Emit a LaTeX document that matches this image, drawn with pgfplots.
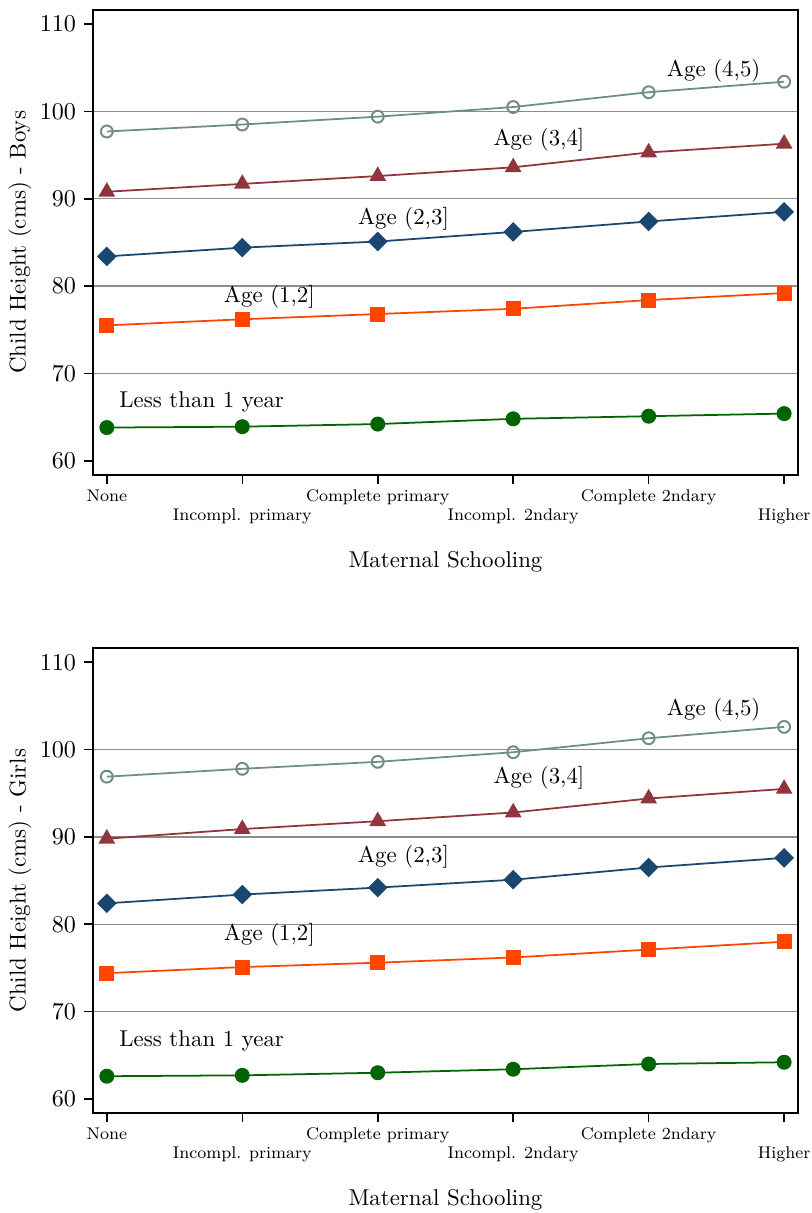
\documentclass[border=0pt]{standalone}
\usepackage{pgfplots}
\usepackage{pgfplotstable}
\pgfplotsset{compat=1.18}

\definecolor{cteal}{RGB}{110,142,132}
\definecolor{cmaroon}{RGB}{144,53,59}
\definecolor{cnavy}{RGB}{26,71,111}
\definecolor{corange}{RGB}{255,69,0}
\definecolor{cgreen}{RGB}{0,100,0}

\pgfplotstableread{
x lt1 a12 a23 a34 a45
0 63.8 75.5 83.4 90.8 97.7
1 63.9 76.2 84.4 91.7 98.5
2 64.2 76.8 85.1 92.6 99.4
3 64.8 77.4 86.2 93.6 100.5
4 65.1 78.4 87.4 95.3 102.2
5 65.4 79.2 88.5 96.3 103.4
}\boys

\pgfplotstableread{
x lt1 a12 a23 a34 a45
0 62.6 74.4 82.4 89.8 96.9
1 62.7 75.1 83.4 90.9 97.8
2 63.0 75.6 84.2 91.8 98.6
3 63.4 76.2 85.1 92.8 99.7
4 64.0 77.1 86.5 94.4 101.3
5 64.2 78.0 87.6 95.5 102.6
}\girls

\newcommand{\lblfont}{\fontsize{10.4}{12.5}\selectfont}

\pgfplotsset{
  panel/.style={
    scale only axis,
    width=320.2pt, height=211.2pt,
    anchor=south west,
    xmin=-0.1, xmax=5.1,
    ymin=58.4, ymax=111.6,
    xtick={0,1,2,3,4,5},
    xticklabels={{\strut None},{\strut\\\strut Incompl. primary},{\strut Complete primary},{\strut\\\strut Incompl. 2ndary},{\strut Complete 2ndary},{\strut\\\strut Higher}},
    xticklabel style={font=\fontsize{7.7}{8.6}\selectfont, align=center, inner sep=1.5pt},
    yticklabel style={font=\fontsize{11}{13}\selectfont},
    ytick={70,80,90,100},
    extra y ticks={60,110},
    extra y tick style={grid=none},
    ymajorgrids=true,
    grid style={black!45, line width=0.6pt},
    tick align=outside,
    major tick length=4.3pt,
    tick style={black, line width=0.7pt},
    xtick pos=bottom, ytick pos=left,
    axis line style={black, line width=0.8pt},
    xlabel={Maternal Schooling},
    label style={font=\lblfont},
    xlabel style={at={(axis description cs:0.5,-0.188)}, anchor=center},
    ylabel style={at={(axis description cs:-0.104,0.5)}, anchor=center},
    clip=false,
  },
  s45/.style={color=cteal, line width=0.8pt, mark=o, mark size=2.7pt, mark options={line width=0.9pt}},
  s34/.style={color=cmaroon, line width=0.8pt, mark=triangle*, mark size=3.6pt},
  s23/.style={color=cnavy, line width=0.8pt, mark=square*, mark size=2.75pt, mark options={rotate=45}},
  s12/.style={color=corange, line width=0.8pt, mark=square*, mark size=3pt},
  s01/.style={color=cgreen, line width=0.8pt, mark=*, mark size=3pt},
}

\newcommand{\agelabels}{%
  \node[font=\lblfont] at (axis cs:4.48,104.6) {Age (4,5)};
  \node[font=\lblfont] at (axis cs:3.19,96.8) {Age (3,4]};
  \node[font=\lblfont] at (axis cs:2.19,87.7) {Age (2,3]};
  \node[font=\lblfont] at (axis cs:1.20,78.8) {Age (1,2]};
  \node[font=\lblfont] at (axis cs:0.70,66.7) {Less than 1 year};
}

\begin{document}
\begin{tikzpicture}
\path[use as bounding box] (0,0) rectangle (369.1pt,551.4pt);

\begin{axis}[panel, at={(42.4pt,335.6pt)}, ylabel={Child Height (cms) - Boys}]
\addplot[s45] table[x=x,y=a45] {\boys};
\addplot[s34] table[x=x,y=a34] {\boys};
\addplot[s23] table[x=x,y=a23] {\boys};
\addplot[s12] table[x=x,y=a12] {\boys};
\addplot[s01] table[x=x,y=lt1] {\boys};
\agelabels
\end{axis}

\begin{axis}[panel, at={(42.4pt,45.5pt)}, ylabel={Child Height (cms) - Girls}]
\addplot[s45] table[x=x,y=a45] {\girls};
\addplot[s34] table[x=x,y=a34] {\girls};
\addplot[s23] table[x=x,y=a23] {\girls};
\addplot[s12] table[x=x,y=a12] {\girls};
\addplot[s01] table[x=x,y=lt1] {\girls};
\agelabels
\end{axis}
\end{tikzpicture}
\end{document}
